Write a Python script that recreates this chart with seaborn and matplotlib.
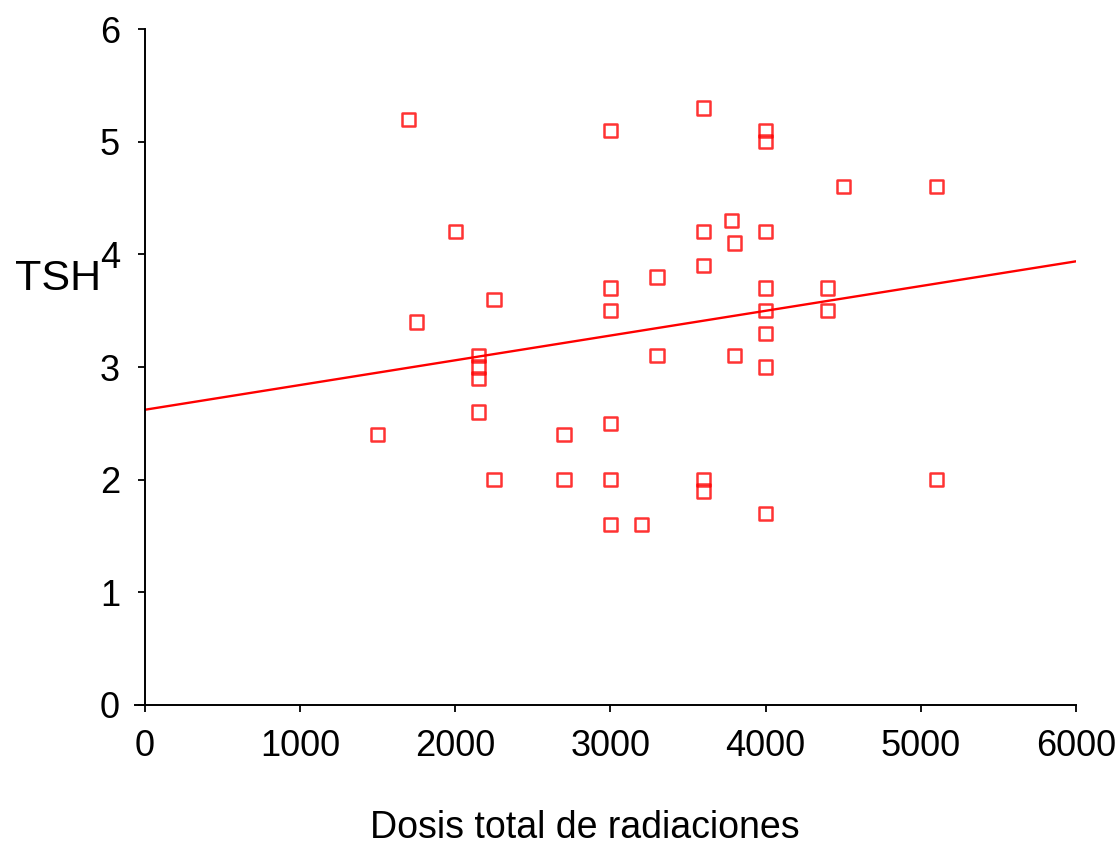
import matplotlib
matplotlib.use("Agg")
import matplotlib.pyplot as plt
import seaborn as sns
import pandas as pd

dosis = [1700, 1500, 1750, 2000, 2150, 2150, 2150, 2150, 2250, 2250,
         2700, 2700, 3000, 3000, 3000, 3000, 3000, 3000, 3200, 3300, 3300,
         3600, 3600, 3600, 3600, 3600, 3780, 3800, 3800,
         4000, 4000, 4000, 4000, 4000, 4000, 4000, 4000,
         4400, 4400, 4500, 5100, 5100]
tsh = [5.2, 2.4, 3.4, 4.2, 3.1, 3.0, 2.9, 2.6, 3.6, 2.0,
       2.4, 2.0, 5.1, 3.7, 3.5, 2.5, 2.0, 1.6, 1.6, 3.8, 3.1,
       5.3, 4.2, 3.9, 2.0, 1.9, 4.3, 4.1, 3.1,
       5.1, 5.0, 4.2, 3.7, 3.5, 3.3, 3.0, 1.7,
       3.7, 3.5, 4.6, 4.6, 2.0]
xticks = [0, 1000, 2000, 3000, 4000, 5000, 6000]
yticks = [0, 1, 2, 3, 4, 5, 6]

df = pd.DataFrame({"Dosis": dosis, "TSH": tsh})

sns.set_style("ticks")
plt.rcParams["font.family"] = ["Liberation Sans", "DejaVu Sans"]
plt.rcParams["text.color"] = "black"
plt.rcParams["axes.labelcolor"] = "black"

fig = plt.figure(figsize=(11.18, 8.44), dpi=100)
ax = fig.add_axes([0.1297, 0.1647, 0.8327, 0.8009])
ax.set_xlim(0, 6000)
ax.set_ylim(0, 6)

sns.regplot(data=df, x="Dosis", y="TSH", ax=ax, ci=None, truncate=False,
            marker="s",
            scatter_kws=dict(s=92, facecolors="none", edgecolors="#ff0000",
                             linewidths=1.8, color="#ff0000"),
            line_kws=dict(color="#ff0000", lw=1.7))

ax.set_xlim(0, 6000)
ax.set_ylim(0, 6)
ax.set_xticks(xticks)
ax.set_yticks(yticks)
ax.tick_params(labelsize=26, length=5, width=1.3, colors="black",
               labelcolor="black")
ax.tick_params(axis="y", pad=13)
ax.tick_params(axis="x", pad=12)
for s in ["top", "right"]:
    ax.spines[s].set_visible(False)
for s in ["left", "bottom"]:
    ax.spines[s].set_linewidth(1.4)
    ax.spines[s].set_color("black")
ax.spines["bottom"].set_bounds(-65, 6000)
ax.spines["bottom"].set_clip_on(False)

ax.set_xlabel("Dosis total de radiaciones", fontsize=27, color="black",
              va="center", ha="center")
ax.xaxis.set_label_coords(0.4726, -0.182)
ax.set_ylabel("TSH", fontsize=31, rotation=0, ha="left", va="center",
              color="black")
ax.yaxis.set_label_coords(-0.140, 0.630)

fig.savefig("out.png", dpi=100)
